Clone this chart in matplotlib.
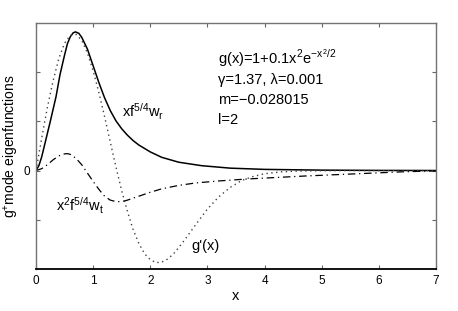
import numpy as np
import matplotlib.pyplot as plt

plt.rcParams['font.family'] = ['Liberation Sans', 'DejaVu Sans']
plt.rcParams['mathtext.fontset'] = 'custom'
plt.rcParams['mathtext.rm'] = 'Liberation Sans'
plt.rcParams['mathtext.it'] = 'Liberation Sans'

# xf^{5/4} w_r  (solid)
x_r = [0, 0.05, 0.1, 0.15, 0.2, 0.25, 0.3, 0.35, 0.42, 0.5, 0.55, 0.6, 0.65, 0.69,
       0.75, 0.8, 0.9, 1.0, 1.1, 1.2, 1.3, 1.4, 1.5, 1.6, 1.7, 1.8, 2.0, 2.2, 2.5,
       2.9, 3.4, 4.0, 5.0, 6.0, 7.0]
w_r = [0, 0.1, 0.28, 0.52, 0.76, 1.0, 1.25, 1.5, 1.95, 2.35, 2.58, 2.72, 2.8, 2.82,
       2.79, 2.71, 2.47, 2.13, 1.79, 1.48, 1.22, 1.01, 0.85, 0.72, 0.61, 0.52, 0.38,
       0.27, 0.17, 0.1, 0.05, 0.025, 0.01, 0.004, 0.002]

# x^2 f^{5/4} w_t  (dash-dot)
x_t = [0, 0.1, 0.2, 0.3, 0.4, 0.5, 0.55, 0.6, 0.7, 0.8, 0.9, 1.0, 1.1, 1.2, 1.3,
       1.4, 1.5, 1.6, 1.8, 2.0, 2.2, 2.5, 2.8, 3.2, 3.7, 4.2, 4.7, 5.3, 5.9, 6.4, 7.0]
w_t = [0, 0.04, 0.12, 0.22, 0.3, 0.34, 0.345, 0.33, 0.25, 0.12, -0.05, -0.22, -0.38,
       -0.52, -0.6, -0.63, -0.63, -0.6, -0.52, -0.44, -0.37, -0.3, -0.25, -0.21,
       -0.17, -0.14, -0.11, -0.08, -0.05, -0.025, -0.005]

# g'(x)  (dotted)
x_g = [0, 0.05, 0.1, 0.15, 0.2, 0.3, 0.4, 0.5, 0.6, 0.7, 0.8, 0.9, 1.0, 1.1, 1.2,
       1.3, 1.4, 1.5, 1.6, 1.7, 1.8, 1.9, 2.0, 2.1, 2.2, 2.3, 2.4, 2.5, 2.6, 2.8,
       3.0, 3.2, 3.4, 3.6, 3.8, 4.0, 4.3, 4.6, 5.0, 5.5, 6.0, 7.0]
gp = [0, 0.33, 0.66, 0.98, 1.29, 1.83, 2.28, 2.59, 2.75, 2.77, 2.65, 2.39, 2.03,
      1.59, 1.1, 0.58, 0.07, -0.41, -0.83, -1.2, -1.48, -1.69, -1.81, -1.87, -1.86,
      -1.8, -1.7, -1.56, -1.41, -1.09, -0.78, -0.53, -0.34, -0.2, -0.12, -0.063,
      -0.025, -0.009, -0.002, 0, 0, 0]

fig = plt.figure(figsize=(4.58, 3.11), dpi=100)
ax = fig.add_axes([0.0786, 0.135, 0.8734, 0.791])

ax.plot(x_r, w_r, color='black', lw=1.1)
ax.plot(x_t, w_t, color='black', lw=0.9, linestyle=(0, (6, 3, 1, 3)))
ax.plot(x_g, gp, color='0.25', lw=1.0, linestyle=(0, (1, 2.5)))

ax.set_xlim(0, 7)
ax.set_ylim(-2, 3)
ax.set_xticks(range(8))
ax.set_yticks([-1, 0, 1, 2])
ax.set_yticklabels(['', '0', '', ''])
ax.tick_params(direction='in', length=3, labelsize=8.5, top=True, right=True,
               color='0.4', pad=4)

for side in ['left', 'top', 'right']:
    ax.spines[side].set_color('0.45')
    ax.spines[side].set_linewidth(1.0)
ax.spines['bottom'].set_linewidth(1.3)

ax.set_xlabel('x', fontsize=10.5, labelpad=2)
ax.set_ylabel('g$^{+}$mode eigenfunctions', fontsize=10, labelpad=2)

fs = 10.5
ax.text(1.5, 1.2, 'xf$^{5/4}$w$_{r}$', fontsize=fs, va='center')
ax.text(0.35, -0.72, 'x$^{2}$f$^{5/4}$w$_{t}$', fontsize=fs, va='center')
ax.text(2.72, -1.53, "g'(x)", fontsize=fs, va='center')
ax.text(3.19, 2.28, 'g(x)=1+0.1x$^{2}$e$^{-x^{2}/2}$', fontsize=fs, va='center')
ax.text(3.19, 1.85, '\u03b3=1.37, \u03bb=0.001', fontsize=fs, va='center')
ax.text(3.19, 1.43, 'm=\u22120.028015', fontsize=fs, va='center')
ax.text(3.19, 1.02, 'l=2', fontsize=fs, va='center')

fig.savefig('out.png', dpi=100)
